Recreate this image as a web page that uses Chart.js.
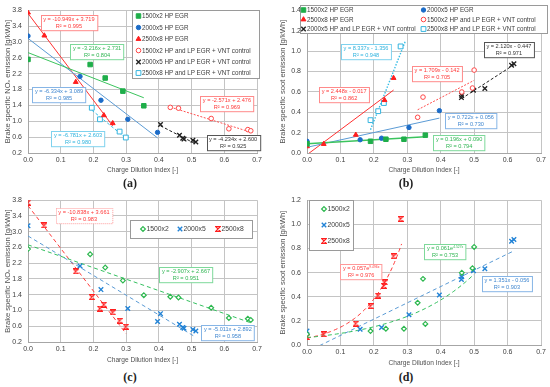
<!DOCTYPE html>
<html>
<head>
<meta charset="utf-8">
<script src="https://cdn.jsdelivr.net/npm/chart.js"></script>
<style>
  body { margin: 0; background: #fff; width: 550px; height: 387px; position: relative; overflow: hidden; }
  canvas { position: absolute; }
  .tag { position: absolute; width: 40px; margin-left: -20px; text-align: center; font: bold 12px "Liberation Serif", serif; color: #222; }
</style>
</head>
<body>
<canvas id="chartA" width="275" height="180" style="left:0;top:0"></canvas>
<canvas id="chartB" width="275" height="180" style="left:275px;top:0"></canvas>
<canvas id="chartC" width="275" height="180" style="left:0;top:190px"></canvas>
<canvas id="chartD" width="275" height="180" style="left:275px;top:190px"></canvas>
<div class="tag" style="left:130px;top:176px">(a)</div>
<div class="tag" style="left:406px;top:176px">(b)</div>
<div class="tag" style="left:130px;top:370px">(c)</div>
<div class="tag" style="left:406px;top:370px">(d)</div>
<script>
// charge dilution index of the HP EGR sweeps (same points in NOx and soot)
const cdi1500Hp = [0, 0.19, 0.236, 0.29, 0.354];
const cdi2000Hp = [0, 0.159, 0.223, 0.305, 0.396];
const cdi2500Hp = [0, 0.05, 0.146, 0.232, 0.259];
const nox1500Hp = [2.56, 2.43, 2.09, 1.76, 1.39];
const nox2000Hp = [3.15, 2.13, 1.53, 1.05, 0.72];
const nox2500Hp = [3.74, 3.16, 1.99, 1.15, 0.95];
const soot1500Hp = [0.09, 0.115, 0.135, 0.135, 0.175];
const soot2000Hp = [0.115, 0.13, 0.145, 0.25, 0.415];
const soot2500Hp = [0.065, 0.088, 0.178, 0.518, 0.735];

// HP + LP EGR + VNT control, NOx plot
const cdi1500LpN = [0.435, 0.46, 0.56, 0.614, 0.672, 0.681];
const nox1500Lp = [1.35, 1.33, 1.07, 0.81, 0.79, 0.76];
const cdi2000LpN = [0.405, 0.463, 0.473, 0.477, 0.504, 0.513];
const nox2000Lp = [0.92, 0.65, 0.57, 0.55, 0.52, 0.48];
const cdi2500LpN = [0.195, 0.22, 0.28, 0.299];
const nox2500Lp = [1.34, 1.05, 0.74, 0.59];

// HP + LP EGR + VNT control, soot plot
const cdi1500LpS = [0.331, 0.347, 0.463, 0.495, 0.5];
const soot1500Lp = [0.35, 0.548, 0.598, 0.637, 0.813];
const cdi2000LpS = [0.462, 0.463, 0.498, 0.532, 0.612, 0.619];
const soot2000Lp = [0.543, 0.565, 0.615, 0.632, 0.86, 0.875];
const cdi2500LpS = [0.19, 0.213, 0.23, 0.28];
const soot2500Lp = [0.322, 0.41, 0.49, 1.045];

// trendline coefficients [slope, intercept] or [a, b] for a*e^(bx), and R²
const fitNox1500Hp = [-3.216, 2.731], r2Nox1500Hp = 0.804;
const fitNox2000Hp = [-6.334, 3.089], r2Nox2000Hp = 0.985;
const fitNox2500Hp = [-10.949, 3.719], r2Nox2500Hp = 0.995;
const fitNox1500Lp = [-2.571, 2.476], r2Nox1500Lp = 0.969;
const fitNox2000Lp = [-4.234, 2.600], r2Nox2000Lp = 0.925;
const fitNox2500Lp = [-6.781, 2.603], r2Nox2500Lp = 0.980;
const fitSoot1500Hp = [0.196, 0.090], r2Soot1500Hp = 0.794;
const fitSoot2000Hp = [0.722, 0.056], r2Soot2000Hp = 0.730;
const fitSoot2500Hp = [2.448, -0.017], r2Soot2500Hp = 0.862;
const fitSoot1500Lp = [1.709, -0.142], r2Soot1500Lp = 0.705;
const fitSoot2000Lp = [2.120, -0.447], r2Soot2000Lp = 0.971;
const fitSoot2500Lp = [8.337, -1.356], r2Soot2500Lp = 0.948;
const fitNox1500All = [-2.907, 2.667], r2Nox1500All = 0.951;
const fitNox2000All = [-5.011, 2.892], r2Nox2000All = 0.958;
const fitNox2500All = [-10.838, 3.661], r2Nox2500All = 0.983;
const expSoot1500All = [0.061, 4.527], r2Soot1500All = 0.753;
const fitSoot2000All = [1.351, -0.056], r2Soot2000All = 0.903;
const expSoot2500All = [0.057, 9.496], r2Soot2500All = 0.976;

const xTicks = ['0.0', '0.1', '0.2', '0.3', '0.4', '0.5', '0.6', '0.7'];
const noxTicks = ['0.2', '0.6', '1.0', '1.4', '1.8', '2.2', '2.6', '3.0', '3.4', '3.8'];
const sootTicksB = ['0.0', '0.2', '0.4', '0.6', '0.8', '1.0', '1.2', '1.4'];
const sootTicksD = ['0.0', '0.2', '0.4', '0.6', '0.8', '1.0', '1.2'];

const FONT = '"Liberation Sans", Arial, sans-serif';

// hourglass marker for the 2500x8 series of (c) and (d)
function bowtie(color) {
    const c = document.createElement('canvas');
    c.width = 6; c.height = 6;
    const g = c.getContext('2d');
    g.strokeStyle = color;
    g.lineWidth = 1.2;
    g.beginPath();
    g.moveTo(0.6, 0.6); g.lineTo(5.4, 0.6); g.lineTo(0.6, 5.4); g.lineTo(5.4, 5.4); g.closePath();
    g.stroke();
    return c;
}

function pts(xs, ys) {
    return xs.map((x, i) => ({ x: x, y: ys[i] }));
}

function lin(c, x0, x1) {
    return [{ x: x0, y: c[0] * x0 + c[1] }, { x: x1, y: c[0] * x1 + c[1] }];
}

function expo(c, x0, x1) {
    const out = [];
    for (let i = 0; i <= 40; i++) {
        const x = x0 + (x1 - x0) * i / 40;
        out.push({ x: x, y: c[0] * Math.exp(c[1] * x) });
    }
    return out;
}

function linText(c, r2) {
    const sign = c[1] < 0 ? '-' : '+';
    return [{ t: 'y = ' + c[0].toFixed(3) + 'x ' + sign + ' ' + Math.abs(c[1]).toFixed(3) }, { t: 'R² = ' + r2.toFixed(3) }];
}

function expText(c, r2) {
    return [{ t: 'y = ' + c[0].toFixed(3) + 'e', sup: c[1].toFixed(3) + 'x' }, { t: 'R² = ' + r2.toFixed(3) }];
}

function marker(label, data, style, color, fill, radius, bw) {
    return {
        label: label, data: data, order: 1,
        pointStyle: style, pointRadius: radius, pointHoverRadius: radius,
        borderColor: color, backgroundColor: fill, pointBorderWidth: bw, borderWidth: bw
    };
}

function trend(data, color, dash, width) {
    return {
        data: data, order: 2, showLine: true, pointRadius: 0, clip: 0,
        borderColor: color, borderWidth: width || 1, borderDash: dash || [], fill: false
    };
}

function drawMarker(ctx, ds, x, y) {
    const r = ds.pointRadius;
    ctx.save();
    ctx.fillStyle = ds.backgroundColor;
    ctx.strokeStyle = ds.borderColor;
    ctx.lineWidth = ds.borderWidth;
    const s = ds.pointStyle;
    if (s instanceof HTMLCanvasElement) {
        ctx.drawImage(s, x - s.width / 2, y - s.height / 2);
    } else {
        ctx.beginPath();
        if (s === 'circle') ctx.arc(x, y, r, 0, Math.PI * 2);
        else if (s === 'rect') { const h = r * Math.SQRT1_2; ctx.rect(x - h, y - h, 2 * h, 2 * h); }
        else if (s === 'rectRot') { ctx.moveTo(x, y - r); ctx.lineTo(x + r, y); ctx.lineTo(x, y + r); ctx.lineTo(x - r, y); ctx.closePath(); }
        else if (s === 'triangle') { ctx.moveTo(x, y - r); ctx.lineTo(x + r * 0.87, y + r * 0.5); ctx.lineTo(x - r * 0.87, y + r * 0.5); ctx.closePath(); }
        else if (s === 'crossRot') { const d = r * 0.7; ctx.moveTo(x - d, y - d); ctx.lineTo(x + d, y + d); ctx.moveTo(x + d, y - d); ctx.lineTo(x - d, y + d); }
        if (s !== 'crossRot') ctx.fill();
        ctx.stroke();
    }
    ctx.restore();
}

// equation boxes, anchored in data coordinates
const eqBoxes = {
    id: 'eqBoxes',
    afterDatasetsDraw(chart, args, opts) {
        const ctx = chart.ctx;
        const xs = chart.scales.x, ys = chart.scales.y;
        (opts.items || []).forEach(item => {
            const cx = xs.getPixelForValue(item.at[0]);
            const cy = ys.getPixelForValue(item.at[1]);
            ctx.save();
            const fs = 5.6, lh = 6.6;
            const widths = item.lines.map(l => {
                ctx.font = fs + 'px ' + FONT;
                let w = ctx.measureText(l.t).width;
                if (l.sup) { ctx.font = (fs * 0.6) + 'px ' + FONT; w += ctx.measureText(l.sup).width; }
                return w;
            });
            const bw = Math.max(...widths) + 5;
            const bh = lh * item.lines.length + 2;
            const left = Math.round(cx - bw / 2) + 0.5, top = Math.round(cy - bh / 2) + 0.5;
            ctx.fillStyle = '#fff';
            ctx.fillRect(left, top, bw, bh);
            ctx.strokeStyle = item.border;
            ctx.lineWidth = 1;
            ctx.setLineDash(item.dash || []);
            ctx.strokeRect(left, top, bw, bh);
            ctx.setLineDash([]);
            ctx.fillStyle = item.color;
            ctx.textBaseline = 'middle';
            item.lines.forEach((l, i) => {
                const y = top + 1 + lh * (i + 0.5);
                let x = cx - widths[i] / 2;
                ctx.font = fs + 'px ' + FONT;
                ctx.textAlign = 'left';
                ctx.fillText(l.t, x, y);
                if (l.sup) {
                    x += ctx.measureText(l.t).width;
                    ctx.font = (fs * 0.6) + 'px ' + FONT;
                    ctx.fillText(l.sup, x, y - 2);
                }
            });
            ctx.restore();
        });
    }
};

// framed legend inside the plot
const boxLegend = {
    id: 'boxLegend',
    afterDraw(chart, args, opts) {
        if (!opts.box) return;
        const ctx = chart.ctx;
        const b = opts.box;
        ctx.save();
        ctx.fillStyle = '#fff';
        ctx.fillRect(b[0], b[1], b[2], b[3]);
        ctx.strokeStyle = '#9a9a9a';
        ctx.lineWidth = 1;
        ctx.strokeRect(b[0] + 0.5, b[1] + 0.5, b[2], b[3]);
        ctx.font = opts.size + 'px ' + FONT;
        ctx.textBaseline = 'middle';
        opts.items.forEach(it => {
            const ds = chart.data.datasets[it[0]];
            drawMarker(ctx, ds, it[1], it[2]);
            ctx.fillStyle = '#404040';
            ctx.fillText(ds.label, it[1] + 3.5, it[2] + 0.5);
        });
        ctx.restore();
    }
};

function makeChart(id, cfg) {
    const tickFont = { family: FONT, size: 7 };
    return new Chart(document.getElementById(id), {
        type: 'scatter',
        data: { datasets: cfg.datasets },
        plugins: [eqBoxes, boxLegend],
        options: {
            responsive: false,
            animation: false,
            events: [],
            layout: { padding: cfg.pad },
            plugins: {
                legend: { display: false },
                tooltip: { enabled: false },
                eqBoxes: { items: cfg.eqs },
                boxLegend: cfg.legend
            },
            scales: {
                x: {
                    type: 'linear', min: 0, max: 0.7,
                    afterFit: s => { s.height = cfg.xh; },
                    ticks: {
                        stepSize: 0.1, color: '#404040', font: tickFont, padding: 3, maxRotation: 0,
                        callback: (v, i) => xTicks[i]
                    },
                    grid: { color: '#c4c4c4', drawTicks: false },
                    border: { color: '#a6a6a6' },
                    title: {
                        display: true, text: 'Charge Dilution Index [-]', color: '#505050',
                        font: { family: FONT, size: 6.6 }, padding: { top: 0, bottom: cfg.xtPad }
                    }
                },
                y: {
                    type: 'linear', min: cfg.yMin, max: cfg.yMax,
                    afterFit: s => { s.width = cfg.yw; },
                    ticks: {
                        stepSize: cfg.yStep, color: '#404040', font: tickFont, padding: cfg.ytPad,
                        callback: (v, i) => cfg.yLabels[i]
                    },
                    grid: { color: '#c4c4c4', drawTicks: false },
                    border: { color: '#a6a6a6' },
                    title: {
                        display: true, text: cfg.yTitle, color: '#505050',
                        font: { family: FONT, size: 7.6 }, padding: { top: 3, bottom: 0 }
                    }
                }
            }
        }
    });
}

const GREEN = '#1fae4a', BLUE = '#1c6cc8', RED = '#ff1e1e', CYAN = '#35b4df', BLACK = '#222222';
const GREEN_T = '#3cc45e', BLUE_T = '#5b9bd5', RED_T = '#ff3030', CYAN_T = '#38bde5';

// (a) NOx vs CDI
makeChart('chartA', {
    pad: { left: 0, top: 6, right: 18, bottom: 0 }, xh: 27, yw: 28, xtPad: 6, ytPad: 6,
    yMin: 0.2, yMax: 3.8, yStep: 0.4, yLabels: noxTicks,
    yTitle: 'Brake specific NOₓ emission [g/kWh]',
    datasets: [
        marker('1500x2 HP EGR', pts(cdi1500Hp, nox1500Hp), 'rect', GREEN, GREEN, 3.2, 1),
        marker('2000x5 HP EGR', pts(cdi2000Hp, nox2000Hp), 'circle', BLUE, BLUE, 2.2, 1),
        marker('2500x8 HP EGR', pts(cdi2500Hp, nox2500Hp), 'triangle', RED, RED, 2.8, 1),
        marker('1500x2 HP and LP EGR + VNT control', pts(cdi1500LpN, nox1500Lp), 'circle', '#ff4646', '#fff', 2.3, 1),
        marker('2000x5 HP and LP EGR + VNT control', pts(cdi2000LpN, nox2000Lp), 'crossRot', BLACK, BLACK, 3.2, 1.4),
        marker('2500x8 HP and LP EGR + VNT control', pts(cdi2500LpN, nox2500Lp), 'rect', CYAN, '#fff', 3.4, 1),
        trend(lin(fitNox1500Hp, 0, 0.354), GREEN_T),
        trend(lin(fitNox2000Hp, 0, 0.396), BLUE_T),
        trend(lin(fitNox2500Hp, 0, 0.259), RED_T),
        trend(lin(fitNox1500Lp, 0.435, 0.681), '#ff5050', [2, 1.5]),
        trend(lin(fitNox2000Lp, 0.405, 0.513), BLACK, [3, 2]),
        trend(lin(fitNox2500Lp, 0.195, 0.299), CYAN_T, [3, 2])
    ],
    eqs: [
        { at: [0.125, 3.48], lines: linText(fitNox2500Hp, r2Nox2500Hp), color: '#ff3838', border: '#ff8a8a' },
        { at: [0.211, 2.75], lines: linText(fitNox1500Hp, r2Nox1500Hp), color: '#2fb552', border: '#7ed99a' },
        { at: [0.095, 1.67], lines: linText(fitNox2000Hp, r2Nox2000Hp), color: '#3f86cf', border: '#86b5e6' },
        { at: [0.153, 0.57], lines: linText(fitNox2500Lp, r2Nox2500Lp), color: '#2eb3de', border: '#7fd2ee' },
        { at: [0.608, 1.45], lines: linText(fitNox1500Lp, r2Nox1500Lp), color: '#ff3838', border: '#ff8a8a' },
        { at: [0.627, 0.47], lines: linText(fitNox2000Lp, r2Nox2000Lp), color: '#333', border: '#555' }
    ],
    legend: {
        box: [132, 10, 127, 68], size: 6.3,
        items: [[0, 138.5, 16], [1, 138.5, 27.5], [2, 138.5, 39], [3, 138.5, 50.5], [4, 138.5, 62], [5, 138.5, 73]]
    }
});

// (b) soot vs CDI
makeChart('chartB', {
    pad: { left: 0, top: 4, right: 9, bottom: 0 }, xh: 27, yw: 32, xtPad: 6, ytPad: 6,
    yMin: 0, yMax: 1.4, yStep: 0.2, yLabels: sootTicksB,
    yTitle: 'Brake specific soot emission [g/kWh]',
    datasets: [
        marker('1500x2 HP EGR', pts(cdi1500Hp, soot1500Hp), 'rect', GREEN, GREEN, 3.2, 1),
        marker('2000x5 HP EGR', pts(cdi2000Hp, soot2000Hp), 'circle', BLUE, BLUE, 2.2, 1),
        marker('2500x8 HP EGR', pts(cdi2500Hp, soot2500Hp), 'triangle', RED, RED, 2.8, 1),
        marker('1500x2 HP and LP EGR + VNT control', pts(cdi1500LpS, soot1500Lp), 'circle', '#ff4646', '#fff', 2.3, 1),
        marker('2000x5 HP and LP EGR + VNT control', pts(cdi2000LpS, soot2000Lp), 'crossRot', BLACK, BLACK, 3.2, 1.4),
        marker('2500x8 HP and LP EGR + VNT control', pts(cdi2500LpS, soot2500Lp), 'rect', CYAN, '#fff', 3.4, 1),
        trend(lin(fitSoot1500Hp, 0, 0.354), GREEN_T, [], 1.4),
        trend(lin(fitSoot2000Hp, 0, 0.396), BLUE_T),
        trend(lin(fitSoot2500Hp, 0, 0.259), RED_T),
        trend(lin(fitSoot1500Lp, 0.331, 0.5), '#ff5050', [2, 1.5]),
        trend(lin(fitSoot2000Lp, 0.462, 0.619), BLACK, [3, 2]),
        trend(lin(fitSoot2500Lp, 0.19, 0.295), CYAN_T, [1.5, 1.5], 1.4)
    ],
    eqs: [
        { at: [0.1765, 0.996], lines: linText(fitSoot2500Lp, r2Soot2500Lp), color: '#2eb3de', border: '#7fd2ee' },
        { at: [0.389, 0.78], lines: linText(fitSoot1500Lp, r2Soot1500Lp), color: '#ff3838', border: '#ff8a8a' },
        { at: [0.604, 1.015], lines: linText(fitSoot2000Lp, r2Soot2000Lp), color: '#333', border: '#555' },
        { at: [0.111, 0.573], lines: linText(fitSoot2500Hp, r2Soot2500Hp), color: '#ff3838', border: '#ff8a8a' },
        { at: [0.49, 0.32], lines: linText(fitSoot2000Hp, r2Soot2000Hp), color: '#3f86cf', border: '#86b5e6' },
        { at: [0.455, 0.103], lines: linText(fitSoot1500Hp, r2Soot1500Hp), color: '#2fb552', border: '#7ed99a' }
    ],
    legend: {
        box: [25, 5, 247, 28], size: 6.3,
        items: [[0, 28.5, 10], [1, 148.5, 10], [2, 28.5, 19.5], [3, 148.5, 19.5], [4, 28.5, 29], [5, 148.5, 29]]
    }
});

// (c) NOx vs CDI, all sweeps per operating point
makeChart('chartC', {
    pad: { left: 0, top: 9, right: 18, bottom: 0 }, xh: 28, yw: 28, xtPad: 6, ytPad: 6,
    yMin: 0.2, yMax: 3.8, yStep: 0.4, yLabels: noxTicks,
    yTitle: 'Brake specific NOₓ emission [g/kWh]',
    datasets: [
        marker('1500x2', pts(cdi1500Hp.concat(cdi1500LpN), nox1500Hp.concat(nox1500Lp)), 'rectRot', '#2db84f', '#fff', 2.4, 1.2),
        marker('2000x5', pts(cdi2000Hp.concat(cdi2000LpN), nox2000Hp.concat(nox2000Lp)), 'crossRot', '#2283d6', '#2283d6', 3.2, 1.4),
        marker('2500x8', pts(cdi2500Hp.concat(cdi2500LpN), nox2500Hp.concat(nox2500Lp)), bowtie('#ff1e1e'), '#ff1e1e', '#ff1e1e', 3, 1.2),
        trend(lin(fitNox1500All, 0, 0.681), '#35c060', [4, 3]),
        trend(lin(fitNox2000All, 0, 0.513), BLUE_T, [4, 3]),
        trend(lin(fitNox2500All, 0, 0.3), '#ff3b3b', [4, 3])
    ],
    eqs: [
        { at: [0.171, 3.40], lines: linText(fitNox2500All, r2Nox2500All), color: '#ff3838', border: '#ff9a9a', dash: [1, 1] },
        { at: [0.483, 1.91], lines: linText(fitNox1500All, r2Nox1500All), color: '#2fb552', border: '#7ed99a' },
        { at: [0.611, 0.43], lines: linText(fitNox2000All, r2Nox2000All), color: '#3f86cf', border: '#86b5e6' }
    ],
    legend: {
        box: [130, 30, 122, 18], size: 6.8,
        items: [[0, 143, 39], [1, 180, 39], [2, 218, 39]]
    }
});

// (d) soot vs CDI, all sweeps per operating point
makeChart('chartD', {
    pad: { left: 0, top: 7, right: 9, bottom: 0 }, xh: 25, yw: 32, xtPad: 3, ytPad: 6,
    yMin: 0, yMax: 1.2, yStep: 0.2, yLabels: sootTicksD,
    yTitle: 'Brake specific soot emission [g/kWh]',
    datasets: [
        marker('1500x2', pts(cdi1500Hp.concat(cdi1500LpS), soot1500Hp.concat(soot1500Lp)), 'rectRot', '#2db84f', '#fff', 2.4, 1.2),
        marker('2000x5', pts(cdi2000Hp.concat(cdi2000LpS), soot2000Hp.concat(soot2000Lp)), 'crossRot', '#2283d6', '#2283d6', 3.2, 1.4),
        marker('2500x8', pts(cdi2500Hp.concat(cdi2500LpS), soot2500Hp.concat(soot2500Lp)), bowtie('#ff1e1e'), '#ff1e1e', '#ff1e1e', 3, 1.2),
        trend(expo(expSoot1500All, 0, 0.5), '#35c060', [4, 3]),
        trend(lin(fitSoot2000All, 0, 0.619), BLUE_T, [4, 3]),
        trend(expo(expSoot2500All, 0, 0.283), '#ff3b3b', [4, 3])
    ],
    eqs: [
        { at: [0.413, 0.77], lines: expText(expSoot1500All, r2Soot1500All), color: '#2fb552', border: '#7ed99a' },
        { at: [0.162, 0.608], lines: expText(expSoot2500All, r2Soot2500All), color: '#ff3838', border: '#ff9a9a' },
        { at: [0.598, 0.511], lines: linText(fitSoot2000All, r2Soot2000All), color: '#3f86cf', border: '#86b5e6' }
    ],
    legend: {
        box: [34, 10, 44, 50], size: 6.8,
        items: [[0, 49, 19], [1, 49, 35], [2, 49, 51]]
    }
});
</script>
</body>
</html>
